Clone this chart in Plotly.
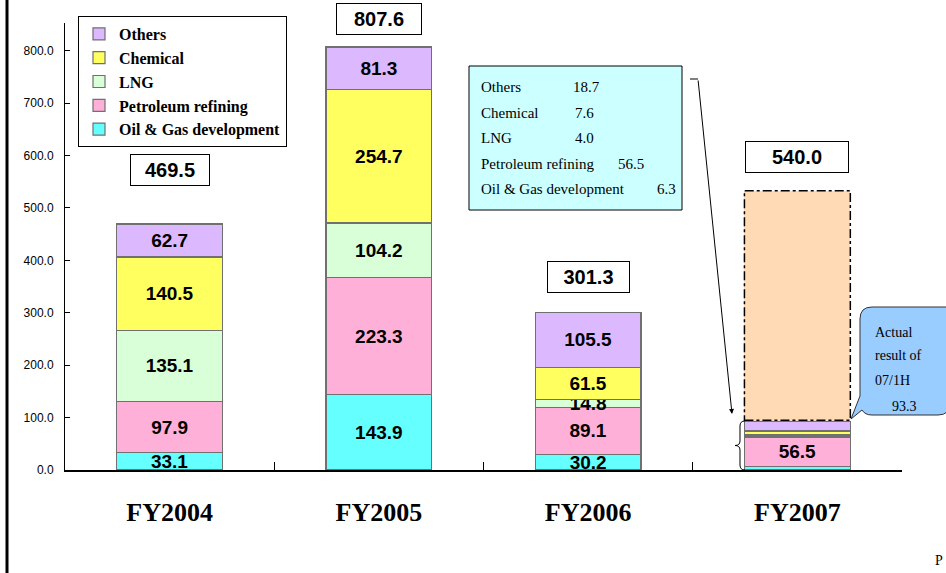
import plotly.graph_objects as go

# ---------------- data ----------------
categories = ["FY2004", "FY2005", "FY2006", "FY2007"]
oil_gas = [33.1, 143.9, 30.2, 6.3]
petroleum = [97.9, 223.3, 89.1, 56.5]
lng = [135.1, 104.2, 14.8, 4.0]
chemical = [140.5, 254.7, 61.5, 7.6]
others = [62.7, 81.3, 105.5, 18.7]
totals = [469.5, 807.6, 301.3, 540.0]
fy2007_plan_rest = [None, None, None, 440.0]   # plan portion above 1H actual (as drawn)
actual_1h_total = 93.3
series_names = ["Oil & Gas development", "Petroleum refining", "LNG", "Chemical", "Others"]
y_tick_values = [0, 100, 200, 300, 400, 500, 600, 700, 800]

# ---------------- styling ----------------
W, H = 946, 573
ML, MR, MT, MB = 65, 44, 23, 103
PW, PH = W - ML - MR, H - MT - MB
YMAX = 853

def X(px):
    return (px - ML) / PW

def Y(py):
    return (H - MB - py) / PH

colors = ["#66FFFF", "#FFB0D8", "#D8FFD8", "#FFFF60", "#DCB8FF"]
series = [oil_gas, petroleum, lng, chemical, others]
seg_font = dict(family="Liberation Sans, Arial", size=19, color="black", weight="bold")
serif = "Liberation Serif, Times New Roman"

fig = go.Figure()
for name, vals, col in zip(series_names, series, colors):
    texts = []
    for cat, v in zip(categories, vals):
        if cat == "FY2007" and v < 20:
            texts.append("")
        else:
            texts.append(f"{v:.1f}")
    fig.add_trace(go.Bar(
        x=categories, y=vals, name=name, text=texts,
        textposition="inside", insidetextanchor="middle", constraintext="none",
        textfont=seg_font, textangle=0, cliponaxis=False,
        marker=dict(color=col, line=dict(color="#707070", width=1.2)),
    ))

fig.add_trace(go.Bar(
    x=categories, y=fy2007_plan_rest, name="FY2007 plan", showlegend=False,
    marker=dict(color="#FFDAB5", line=dict(width=0)),
))

BARW = 0.506
fig.update_layout(
    width=W, height=H, barmode="stack", bargap=1 - BARW,
    margin=dict(l=ML, r=MR, t=MT, b=MB),
    plot_bgcolor="white", paper_bgcolor="white",
    legend=dict(
        x=X(78), y=Y(16), xanchor="left", yanchor="top",
        traceorder="reversed", bordercolor="black", borderwidth=1, bgcolor="white",
        font=dict(family=serif, size=16, color="black", weight="bold"),
        itemwidth=30,
    ),
    xaxis=dict(
        showline=True, linecolor="black", linewidth=1.5,
        ticks="inside", tickson="boundaries", ticklen=8, tickcolor="black",
        tickfont=dict(family=serif, size=26, color="black", weight="bold"),
        ticklabelstandoff=18, showgrid=False,
    ),
    yaxis=dict(
        range=[0, YMAX], showline=True, linecolor="black", linewidth=1,
        tickvals=y_tick_values, tickformat=".1f", ticks="inside", ticklen=5,
        tickcolor="black", ticklabelstandoff=8,
        tickfont=dict(family="Liberation Sans, Arial", size=12, color="black"),
        showgrid=False, zeroline=False,
    ),
)

# total boxes
total_shift = [54, 28, 35, 30]
total_width = [68, 74, 71, 92]
for cat, t, sh, wd in zip(categories, totals, total_shift, total_width):
    fig.add_annotation(
        x=cat, y=t, xref="x", yref="y", yshift=sh, text=f"{t:.1f}", showarrow=False,
        font=dict(family="Liberation Sans, Arial", size=20, color="black", weight="bold"),
        bordercolor="black", borderwidth=1, borderpad=5, bgcolor="white",
        width=wd, height=20,
    )

shapes = []
# dash-dot frame around FY2007 plan portion
base07 = sum(s[3] for s in series)
shapes.append(dict(type="rect", xref="x", yref="y",
                   x0=3 - BARW / 2, x1=3 + BARW / 2, y0=base07 + 2,
                   y1=base07 + fy2007_plan_rest[3],
                   line=dict(color="black", width=1.5, dash="dashdot")))
# left page border
shapes.append(dict(type="line", xref="paper", yref="paper", x0=X(7), x1=X(7),
                   y0=Y(H + 5), y1=Y(-5), line=dict(color="black", width=3)))
# cyan breakdown box
shapes.append(dict(type="rect", xref="paper", yref="paper", x0=X(469), x1=X(682),
                   y0=Y(210), y1=Y(66), fillcolor="#CCFFFF",
                   line=dict(color="black", width=1)))
# leader line
shapes.append(dict(type="line", xref="paper", yref="paper", x0=X(690), x1=X(698),
                   y0=Y(79), y1=Y(79), line=dict(color="black", width=1)))


def conv(path):
    out = []
    toks = path.split()
    i = 0
    while i < len(toks):
        t = toks[i]
        if t.isalpha():
            out.append(t)
            i += 1
        else:
            px, py = float(toks[i]), float(toks[i + 1])
            out.append(f"{X(px):.5f},{Y(py):.5f}")
            i += 2
    return " ".join(out)

# brace
brace_px = "M 745 421 Q 740 421 740 426 L 740 441 Q 740 445.5 735 445.5 Q 740 445.5 740 450 L 740 465 Q 740 470 745 470"
shapes.append(dict(type="path", xref="paper", yref="paper", path=conv(brace_px),
                   line=dict(color="black", width=1)))
# speech bubble
bubble_px = ("M 872 307 L 950 307 L 950 403 Q 950 415 938 415 L 872 415 "
             "Q 865 415 862 410 L 851 419 L 860 396 L 860 319 Q 860 307 872 307 Z")
shapes.append(dict(type="path", xref="paper", yref="paper", path=conv(bubble_px),
                   fillcolor="#99CCFF", line=dict(color="#333333", width=1)))
fig.update_layout(shapes=shapes)

# arrow from leader line to FY2007 actual bar
fig.add_annotation(x=X(732), y=Y(414), xref="paper", yref="paper", text="",
                   showarrow=True, ax=698 - 732, ay=79 - 414, arrowhead=2,
                   arrowsize=1, arrowwidth=1, arrowcolor="black")

# breakdown box text
box_font = dict(family=serif, size=15, color="black")
box_names = ["Others", "Chemical", "LNG", "Petroleum refining", "Oil & Gas development"]
box_vals = [others[3], chemical[3], lng[3], petroleum[3], oil_gas[3]]
box_y = [87, 113, 138, 164, 189]
box_val_x = [571, 573, 573, 616, 655]
for nm, v, yy, vx in zip(box_names, box_vals, box_y, box_val_x):
    fig.add_annotation(x=X(479), y=Y(yy), xref="paper", yref="paper", text=nm,
                       showarrow=False, xanchor="left", yanchor="middle", font=box_font)
    fig.add_annotation(x=X(vx), y=Y(yy), xref="paper", yref="paper", text=f"{v:.1f}",
                       showarrow=False, xanchor="left", yanchor="middle", font=box_font)

# bubble text
bub_font = dict(family=serif, size=14, color="black")
bub_lines = [("Actual", 873, 332), ("result of", 873, 356), ("07/1H", 873, 380),
             (f"{actual_1h_total:.1f}", 890, 406)]
for tx, bx, by in bub_lines:
    fig.add_annotation(x=X(bx), y=Y(by), xref="paper", yref="paper", text=tx,
                       showarrow=False, xanchor="left", yanchor="middle", font=bub_font)

# page number fragment
fig.add_annotation(x=X(933), y=Y(560), xref="paper", yref="paper", text="P",
                   showarrow=False, xanchor="left", yanchor="middle",
                   font=dict(family=serif, size=14, color="black"))

fig.write_html("out.html", config={"displayModeBar": False},
               post_script="document.body.style.margin='0';document.body.style.overflow='hidden';")
